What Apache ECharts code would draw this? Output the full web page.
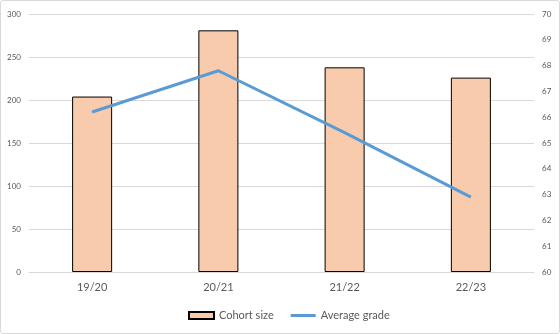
<!DOCTYPE html>
<html><head><meta charset="utf-8">
<script src="https://cdn.jsdelivr.net/npm/echarts@6/dist/echarts.min.js"></script>
<style>
html,body{margin:0;padding:0;background:#fff;}
#c{position:absolute;left:0;top:0;width:560px;height:334px;}
#b{position:absolute;left:0;top:0;width:560px;height:334px;box-sizing:border-box;border:1px solid #d9d9d9;border-radius:3px;pointer-events:none;}
</style></head>
<body><div id="c"></div><div id="b"></div>
<script>
const categories = ["19/20", "20/21", "21/22", "22/23"];
const cohortSize = [204, 281, 238, 226];
const averageGrade = [66.2, 67.8, 65.4, 62.9];
const leftTicks = [0, 300, 50];
const rightTicks = [60, 70, 1];

const font = "Lato, 'Open Sans', sans-serif";
const chart = echarts.init(document.getElementById('c'), null, {renderer: 'canvas'});
chart.setOption({
  animation: false,
  textStyle: {fontFamily: font},
  grid: {left: 29, right: 26, top: 14, bottom: 62, containLabel: false},
  legend: {
    top: 305, left: 183, itemGap: 17, itemWidth: 25, itemHeight: 7,
    textStyle: {color: '#595959', fontSize: 11, fontFamily: font},
    data: [
      {name: 'Cohort size', icon: 'rect'},
      {name: 'Average grade', icon: 'path://M0,0M0,2L25,2L25,5L0,5Z M25,7', itemStyle: {color: '#5B9BD5', borderWidth: 0}}
    ]
  },
  xAxis: {
    type: 'category', data: categories,
    axisLine: {lineStyle: {color: '#d9d9d9'}},
    axisTick: {show: false},
    axisLabel: {color: '#595959', fontSize: 11, margin: 10, fontFamily: font}
  },
  yAxis: [
    {type: 'value', min: leftTicks[0], max: leftTicks[1], interval: leftTicks[2],
     splitLine: {lineStyle: {color: '#d9d9d9'}},
     axisLine: {show: false}, axisTick: {show: false},
     axisLabel: {color: '#595959', fontSize: 8, margin: 8, fontFamily: font}},
    {type: 'value', min: rightTicks[0], max: rightTicks[1], interval: rightTicks[2],
     position: 'right', splitLine: {show: false},
     axisLine: {show: false}, axisTick: {show: false},
     axisLabel: {color: '#595959', fontSize: 8, margin: 8, fontFamily: font}}
  ],
  series: [
    {name: 'Cohort size', type: 'bar', data: cohortSize, barWidth: '31.7%',
     itemStyle: {color: '#F8CBAD', borderColor: '#000', borderWidth: 1}},
    {name: 'Average grade', type: 'line', yAxisIndex: 1, data: averageGrade,
     symbol: 'none', lineStyle: {color: '#5B9BD5', width: 3}, itemStyle: {color: '#5B9BD5'}}
  ]
});
</script></body></html>
